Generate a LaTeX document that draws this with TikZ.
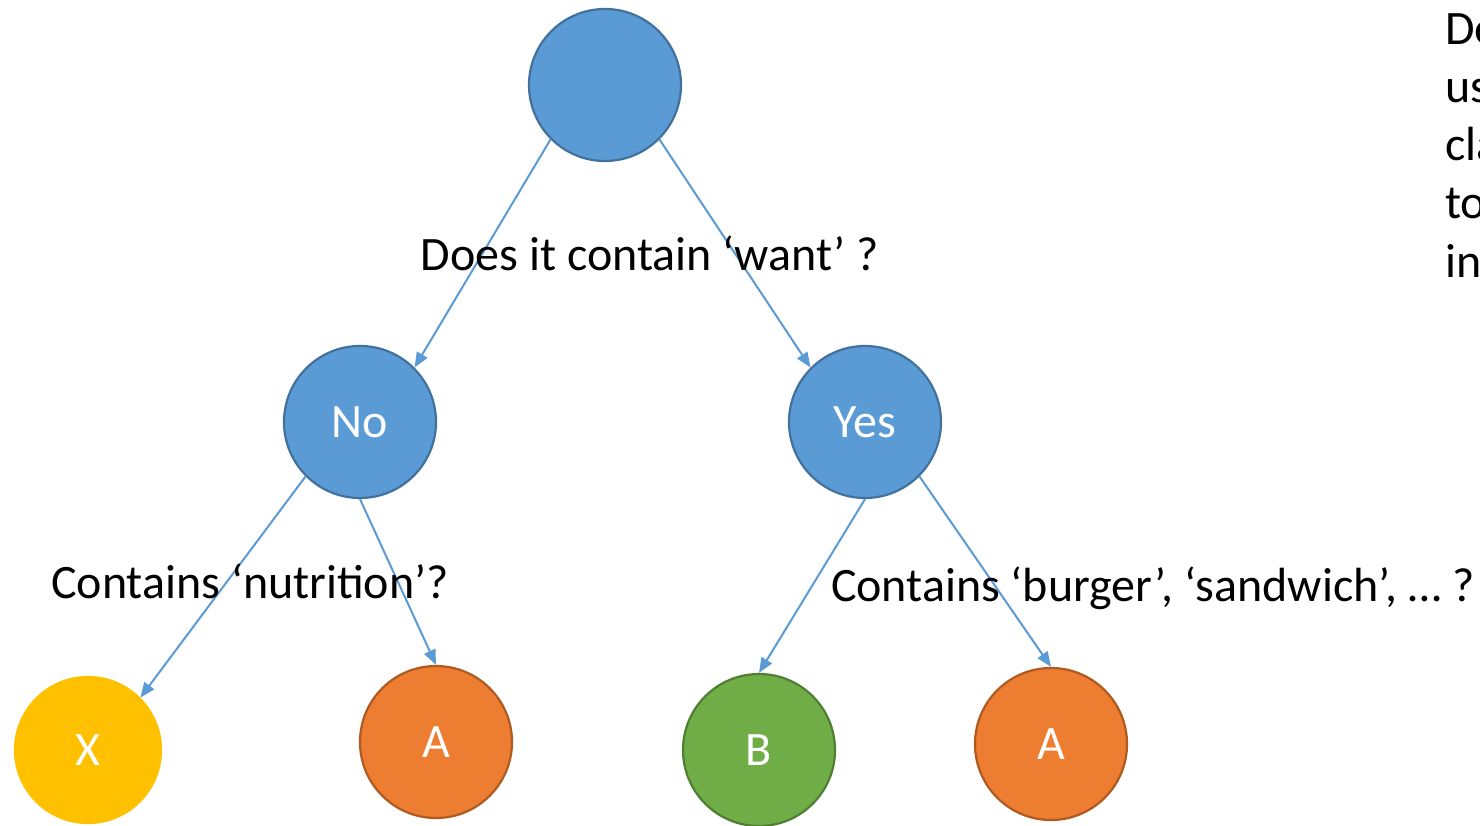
\documentclass[tikz,border=0pt]{standalone}
\usepackage{fontspec}
\setmainfont{Carlito}
\usetikzlibrary{arrows.meta}
\definecolor{nblue}{HTML}{5B9BD5}
\definecolor{nbluedark}{HTML}{41719C}
\definecolor{norange}{HTML}{ED7D31}
\definecolor{norangedark}{HTML}{AE5A21}
\definecolor{ngreen}{HTML}{70AD47}
\definecolor{ngreendark}{HTML}{507E32}
\definecolor{nyellow}{HTML}{FFC000}
\tikzset{
  circ/.style={circle, minimum size=152pt, inner sep=0pt, line width=2.2pt, text=white, font=\fontsize{48}{58}\selectfont},
  bluec/.style={circ, fill=nblue, draw=nbluedark},
  orangec/.style={circ, fill=norange, draw=norangedark},
  greenc/.style={circ, fill=ngreen, draw=ngreendark},
  yellowc/.style={circ, fill=nyellow, draw=nyellow, minimum size=146pt},
  conn/.style={draw=nblue, line width=2pt, -{Triangle[length=15pt,width=12pt]}},
  lbl/.style={font=\fontsize{48}{58}\selectfont, inner sep=0pt, anchor=base},
  side/.style={font=\fontsize{48}{58}\selectfont, inner sep=0pt, anchor=base west}
}
\begin{document}
\begin{tikzpicture}[x=1pt,y=-1pt]
\useasboundingbox (0,0) rectangle (1480,826);
\clip (0,0) rectangle (1480,826);
\fill[white] (0,0) rectangle (1480,826);

\node[bluec] (root) at (605,85) {};
\node[bluec] (no) at (360,422) {No};
\node[bluec] (yes) at (865,422) {Yes};
\node[yellowc] (x) at (88,750) {X};
\node[orangec] (a1) at (436,742) {A};
\node[greenc] (b) at (759,750) {B};
\node[orangec] (a2) at (1051,744) {A};

\draw[conn] (root.225) -- (no.45);
\draw[conn] (root.-45) -- (yes.135);
\draw[conn] (no.-135) -- (x.45);
\draw[conn] (no.-90) -- (a1.90);
\draw[conn] (yes.-90) -- (b.90);
\draw[conn] (yes.-45) -- (a2.90);

\node[lbl] (q1) at (650,271) {Does it contain ‘want’ ?};
\node[lbl] (q2) at (250,598) {Contains ‘nutrition’?};
\node[lbl] (q3) at (1153,601) {Contains ‘burger’, ‘sandwich’, … ?};

\node[side] (t1) at (1445,45) {De};
\node[side] (t2) at (1445,103) {us};
\node[side] (t3) at (1445,161) {cla};
\node[side] (t4) at (1445,219) {to};
\node[side] (t5) at (1445,277) {in};
\end{tikzpicture}
\end{document}
